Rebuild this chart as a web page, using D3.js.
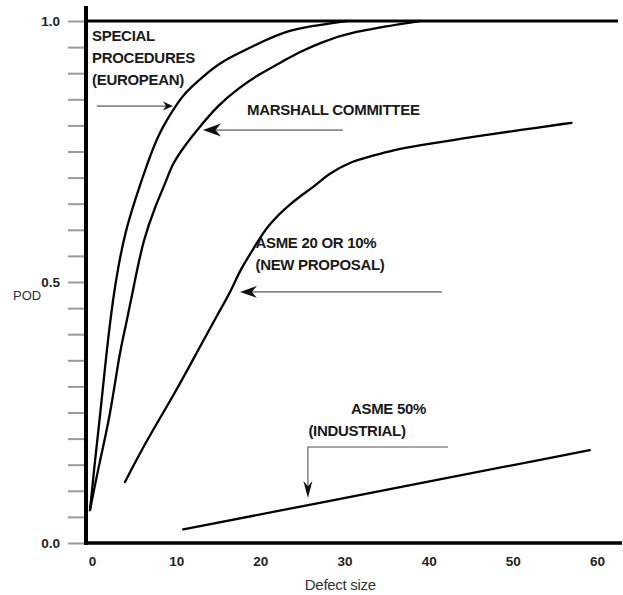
<!DOCTYPE html>
<html>
<head>
<meta charset="utf-8">
<script src="https://cdn.jsdelivr.net/npm/d3@7"></script>
<style>
  html, body { margin: 0; padding: 0; background: #fff; }
  svg { display: block; font-family: "Liberation Sans", Arial, sans-serif; }
</style>
</head>
<body>
<svg id="chart" width="623" height="595"></svg>
<script>
// ---- data ----
const specialX  = [-0.24, 0.36, 0.95, 1.75, 2.53, 3.12, 3.92, 5.11, 6.50, 7.87, 9.26, 10.65, 11.84, 13.42, 15.40, 17.78, 20.16, 22.92, 25.9, 30.3];
const specialY  = [0.063, 0.159, 0.242, 0.370, 0.472, 0.529, 0.594, 0.657, 0.724, 0.782, 0.820, 0.855, 0.874, 0.897, 0.922, 0.941, 0.960, 0.980, 0.990, 1.0];

const marshallX = [-0.24, 0.95, 2.14, 3.33, 3.92, 5.11, 6.09, 7.48, 8.87, 9.47, 11.05, 12.62, 15.0, 17.38, 19.75, 22.92, 24.7, 27.1, 30.6, 39.0];
const marshallY = [0.063, 0.159, 0.242, 0.370, 0.408, 0.504, 0.580, 0.644, 0.695, 0.724, 0.762, 0.794, 0.839, 0.871, 0.897, 0.925, 0.941, 0.958, 0.979, 1.0];

const asme20X   = [3.92, 6.50, 9.86, 12.62, 15.0, 16.59, 17.58, 19.36, 20.75, 23.52, 26.69, 27.87, 30.64, 33.0, 35.78, 38.95, 42.91, 46.88, 50.83, 56.97];
const asme20Y   = [0.117, 0.197, 0.287, 0.370, 0.440, 0.485, 0.523, 0.568, 0.606, 0.651, 0.686, 0.705, 0.730, 0.740, 0.753, 0.762, 0.772, 0.782, 0.791, 0.805];

const asme50X   = [10.84, 24.7, 59.14];
const asme50Y   = [0.026, 0.0695, 0.178];

const xTickValues = [0, 10, 20, 30, 40, 50, 60];
const yTickValues = [0, 0.05, 0.1, 0.15, 0.2, 0.25, 0.3, 0.35, 0.4, 0.45, 0.5, 0.55, 0.6, 0.65, 0.7, 0.75, 0.8, 0.85, 0.9, 0.95, 1.0];
const yLabelValues = [0, 0.5, 1.0];

const xTitle = "Defect size";
const yTitle = "POD";

// annotation texts and anchors (data units)
const labelLines = [
  ["SPECIAL", "PROCEDURES", "(EUROPEAN)"],
  ["MARSHALL COMMITTEE"],
  ["ASME 20 OR 10%", "(NEW PROPOSAL)"],
  ["ASME 50%"],
  ["(INDUSTRIAL)"]
];
const labelAnchorX = [0, 18.41, 19.42, 30.76, 25.71];
const labelAnchorY = [0.9718, 0.830, 0.575, 0.257, 0.215];

// arrows: polyline points in data units, last point is the tip
const arrowPaths = [
  [[0.59, 0.837], [9.62, 0.837]],
  [[29.81, 0.791], [13.18, 0.791]],
  [[41.57, 0.481], [17.58, 0.481]],
  [[42.28, 0.184], [25.65, 0.184], [25.65, 0.086]]
];
const arrowHeadLen = [10, 18, 17, 17];
const arrowHeadWid = [9, 13, 12, 9];

// ---- layout ----
const svg = d3.select("#chart");
const x = d3.scaleLinear().domain([0, 60]).range([92, 597]);
const y = d3.scaleLinear().domain([0, 1]).range([543, 21]);
const axisX = 86;       // pixel position of the vertical axis
const xEnd = 622;

svg.append("rect").attr("width", 623).attr("height", 595).attr("fill", "#fff");

// y ticks (grey) and labels
const yAxis = d3.axisLeft(y)
  .tickValues(yTickValues)
  .tickSize(16)
  .tickPadding(8)
  .tickFormat(d => yLabelValues.some(v => Math.abs(v - d) < 1e-9) ? d3.format(".1f")(d) : "");
const gy = svg.append("g").attr("transform", `translate(${axisX - 2},0)`).call(yAxis);
gy.select(".domain").remove();
gy.selectAll(".tick line").attr("stroke", "#9a9a9a").attr("stroke-width", 2);
gy.selectAll(".tick text")
  .attr("fill", "#222").attr("font-size", 13.5).attr("font-weight", "bold")
  .attr("font-family", "Liberation Sans, Arial, sans-serif");

// x labels
const xAxis = d3.axisBottom(x).tickValues(xTickValues).tickSize(0).tickPadding(13).tickFormat(d3.format("d"));
const gx = svg.append("g").attr("transform", `translate(0,${y(0)})`).call(xAxis);
gx.select(".domain").remove();
gx.selectAll(".tick text")
  .attr("fill", "#222").attr("font-size", 13.5).attr("font-weight", "bold")
  .attr("font-family", "Liberation Sans, Arial, sans-serif");

// frame lines
svg.append("line").attr("x1", axisX).attr("x2", axisX).attr("y1", y(0) + 2).attr("y2", y(1) - 15)
  .attr("stroke", "#000").attr("stroke-width", 4);
svg.append("line").attr("x1", axisX - 2).attr("x2", xEnd).attr("y1", y(0)).attr("y2", y(0))
  .attr("stroke", "#000").attr("stroke-width", 3.5);
svg.append("line").attr("x1", axisX).attr("x2", 618).attr("y1", y(1)).attr("y2", y(1))
  .attr("stroke", "#000").attr("stroke-width", 3);

// axis titles
svg.append("text").attr("x", 13).attr("y", 300).attr("font-size", 13).attr("fill", "#333").text(yTitle);
svg.append("text").attr("x", x(29.5)).attr("y", 590).attr("text-anchor", "middle")
  .attr("font-size", 15).attr("letter-spacing", -0.3).attr("fill", "#333").text(xTitle);

// curves
const line = d3.line().x(d => x(d[0])).y(d => y(d[1])).curve(d3.curveBasis);
const series = [[specialX, specialY], [marshallX, marshallY], [asme20X, asme20Y], [asme50X, asme50Y]];
series.forEach(([xs, ys]) => {
  svg.append("path").datum(xs.map((v, i) => [v, ys[i]]))
    .attr("d", line).attr("fill", "none").attr("stroke", "#000")
    .attr("stroke-width", 2.3).attr("stroke-linejoin", "round").attr("stroke-linecap", "round");
});

// annotation texts
labelLines.forEach((lines, i) => {
  lines.forEach((t, j) => {
    svg.append("text")
      .attr("x", x(labelAnchorX[i]))
      .attr("y", y(labelAnchorY[i]) + j * 22 + 5.5)
      .attr("font-size", 15).attr("font-weight", "bold").attr("fill", "#1a1a1a")
      .attr("letter-spacing", -0.3)
      .text(t);
  });
});

// arrows
arrowPaths.forEach((pts, i) => {
  const p = pts.map(d => [x(d[0]), y(d[1])]);
  const tip = p[p.length - 1], prev = p[p.length - 2];
  const dx = tip[0] - prev[0], dy = tip[1] - prev[1];
  const len = Math.hypot(dx, dy), ux = dx / len, uy = dy / len;
  const L = arrowHeadLen[i], W = arrowHeadWid[i];
  const base = [tip[0] - ux * L, tip[1] - uy * L];
  const shaft = p.slice(0, -1).concat([[tip[0] - ux * L * 0.6, tip[1] - uy * L * 0.6]]);
  svg.append("path").attr("d", d3.line()(shaft)).attr("fill", "none")
    .attr("stroke", "#8a8a8a").attr("stroke-width", 1.6);
  const notch = [tip[0] - ux * L * 0.7, tip[1] - uy * L * 0.7];
  svg.append("path")
    .attr("d", d3.line()([
      tip,
      [base[0] - uy * W / 2, base[1] + ux * W / 2],
      notch,
      [base[0] + uy * W / 2, base[1] - ux * W / 2]
    ]) + "Z")
    .attr("fill", "#111");
});
</script>
</body>
</html>
